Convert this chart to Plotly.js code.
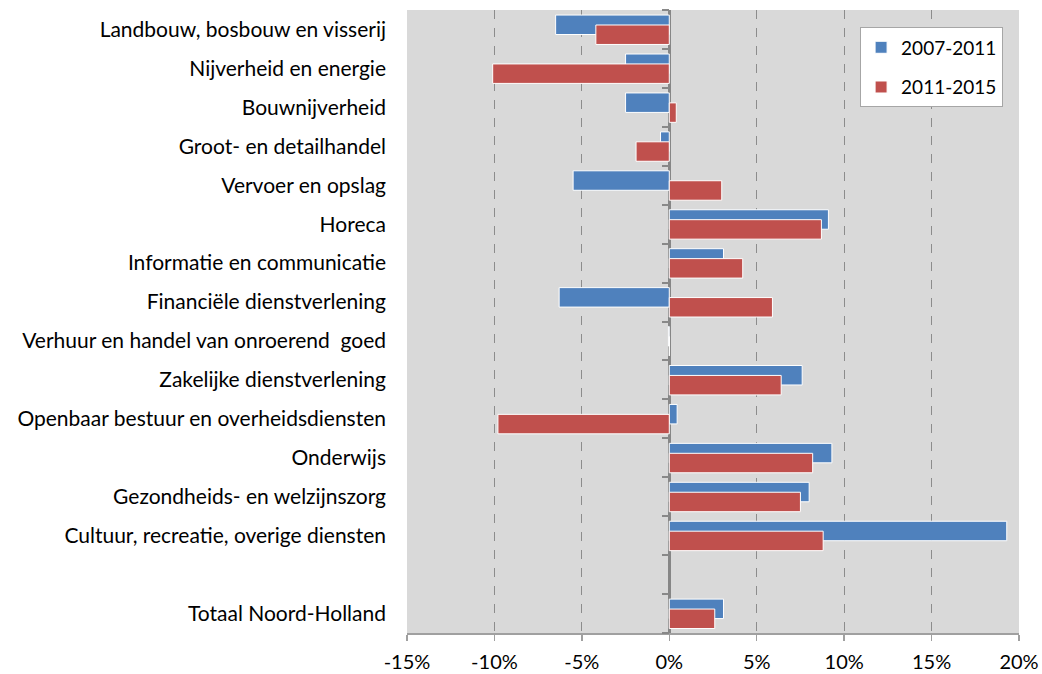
<!DOCTYPE html>
<html>
<head>
<meta charset="utf-8">
<script src="https://cdn.plot.ly/plotly-3.0.1.min.js"></script>
<style>html,body{margin:0;padding:0;background:#fff;}#chart{width:1042px;height:674px;}</style>
</head>
<body>
<div id="chart"></div>
<script>
const categories = [
  "Landbouw, bosbouw en visserij",
  "Nijverheid en energie",
  "Bouwnijverheid",
  "Groot- en detailhandel",
  "Vervoer en opslag",
  "Horeca",
  "Informatie en communicatie",
  "Financiële dienstverlening",
  "Verhuur en handel van onroerend  goed",
  "Zakelijke dienstverlening",
  "Openbaar bestuur en overheidsdiensten",
  "Onderwijs",
  "Gezondheids- en welzijnszorg",
  "Cultuur, recreatie, overige diensten",
  " ",
  "Totaal Noord-Holland"
];
const series1Name = "2007-2011";
const series2Name = "2011-2015";
const values2007_2011 = [-6.5, -2.5, -2.5, -0.5, -5.5, 9.1, 3.1, -6.3, -0.05, 7.6, 0.45, 9.3, 8.0, 19.3, null, 3.1];
const values2011_2015 = [-4.2, -10.1, 0.4, -1.9, 3.0, 8.7, 4.2, 5.9, 0, 6.4, -9.8, 8.2, 7.5, 8.8, null, 2.6];
const xTickVals = [-15, -10, -5, 0, 5, 10, 15, 20];
const xTickText = ["-15%", "-10%", "-5%", "0%", "5%", "10%", "15%", "20%"];

const n = categories.length;
const boundaries = [];
for (let i = 0; i <= n; i++) boundaries.push(i - 0.5);

const FONT = "Lato, 'Open Sans', sans-serif";

const traces = [
  {
    type: "bar", orientation: "h", name: series1Name, legendgroup: "a",
    x: values2007_2011, y: categories,
    offset: -0.37, width: 0.5,
    marker: {color: "#4F81BD", line: {color: "#ffffff", width: 1}},
    hoverinfo: "x+y"
  },
  {
    type: "bar", orientation: "h", name: series2Name, legendgroup: "b",
    x: values2011_2015, y: categories,
    offset: -0.115, width: 0.5,
    marker: {color: "#C0504D", line: {color: "#ffffff", width: 1}},
    hoverinfo: "x+y"
  },
  {
    type: "scatter", mode: "markers", x: [null], y: [null],
    yaxis: "y2", showlegend: false, hoverinfo: "skip"
  }
];

const layout = {
  width: 1042, height: 674,
  margin: {l: 407, r: 23, t: 10, b: 41, pad: 0},
  paper_bgcolor: "#ffffff",
  plot_bgcolor: "#D9D9D9",
  barmode: "overlay",
  font: {family: FONT, size: 21, color: "#000000"},
  showlegend: true,
  legend: {
    x: 0.974, y: 0.972, xanchor: "right", yanchor: "top",
    bgcolor: "#ffffff", bordercolor: "#A6A6A6", borderwidth: 1,
    font: {family: FONT, size: 19, color: "#000"},
    traceorder: "grouped", tracegroupgap: 12
  },
  xaxis: {
    range: [-15, 20],
    tickvals: xTickVals, ticktext: xTickText,
    tickfont: {family: FONT, size: 20, color: "#000"},
    showgrid: true, gridcolor: "#8C8C8C", griddash: "dash", gridwidth: 1,
    zeroline: true, zerolinecolor: "#868686", zerolinewidth: 3,
    showline: true, linecolor: "#A0A0A0", linewidth: 1.5,
    ticks: "outside", ticklen: 6, tickcolor: "#A0A0A0", tickwidth: 1.5,
    ticklabelstandoff: 4,
    fixedrange: true
  },
  yaxis: {
    type: "category",
    range: [n - 0.5, -0.5],
    showgrid: false, zeroline: false, showline: false,
    ticks: "", ticklabelstandoff: 20,
    tickfont: {family: FONT, size: 21, color: "#000"},
    fixedrange: true
  },
  yaxis2: {
    overlaying: "y", anchor: "free", position: 15 / 35, side: "left",
    range: [n - 0.5, -0.5],
    tickvals: boundaries, showticklabels: false,
    ticks: "outside", ticklen: 7, tickcolor: "#888888", tickwidth: 2,
    showgrid: false, zeroline: false, showline: false,
    fixedrange: true
  }
};

Plotly.newPlot("chart", traces, layout, {displayModeBar: false, staticPlot: true});
</script>
</body>
</html>
